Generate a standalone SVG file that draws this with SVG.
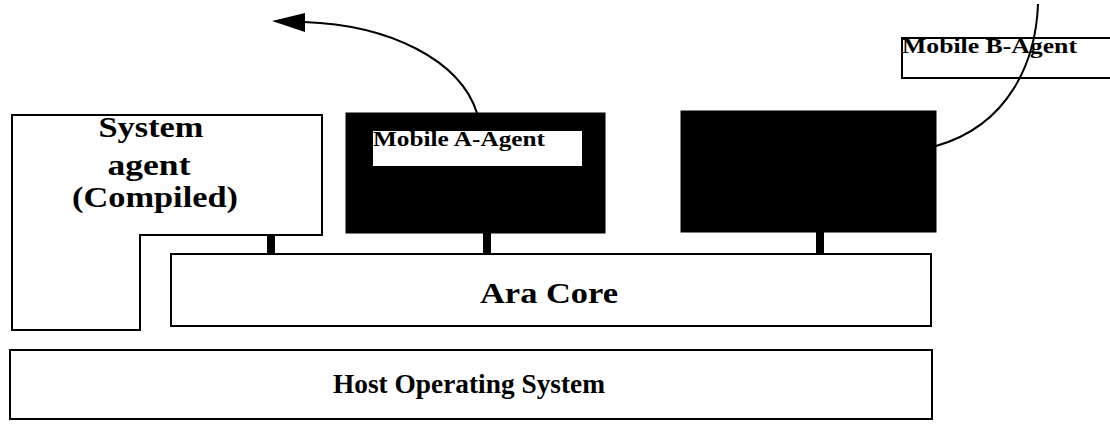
<svg xmlns="http://www.w3.org/2000/svg" width="1110" height="424" viewBox="0 0 1110 424">
  <style>
    .box { fill: #ffffff; stroke: #000000; stroke-width: 2; }
    .blk { fill: #000000; stroke: #000000; stroke-width: 1; }
    .lbl { font-family: "Liberation Serif", "Times New Roman", serif; font-weight: bold; fill: #000000; }
    .conn { fill: none; stroke: #000000; stroke-width: 2; }
    .stem { fill: #000000; }
  </style>
  <rect width="1110" height="424" fill="#ffffff"/>

  <g id="system-agent">
    <path class="box" d="M12,115 L322,115 L322,235 L140,235 L140,330 L12,330 Z"/>
    <text class="lbl" x="151" y="137" font-size="30" text-anchor="middle" textLength="105" lengthAdjust="spacingAndGlyphs">System</text>
    <text class="lbl" x="149" y="175" font-size="30" text-anchor="middle" textLength="83" lengthAdjust="spacingAndGlyphs">agent</text>
    <text class="lbl" x="155" y="207" font-size="30" text-anchor="middle" textLength="166" lengthAdjust="spacingAndGlyphs">(Compiled)</text>
  </g>

  <g id="mobile-a-agent">
    <rect class="blk" x="346" y="113" width="259" height="120"/>
    <rect x="373" y="131" width="209" height="35" fill="#ffffff"/>
    <text class="lbl" x="373" y="146" font-size="21" textLength="172" lengthAdjust="spacingAndGlyphs">Mobile A-Agent</text>
  </g>

  <g id="mobile-b-host">
    <rect class="blk" x="681" y="111" width="255" height="121"/>
  </g>

  <g id="mobile-b-agent">
    <path class="box" d="M1112,38 L902,38 L902,78 L1112,78"/>
    <text class="lbl" x="902" y="53" font-size="21" textLength="175" lengthAdjust="spacingAndGlyphs">Mobile B-Agent</text>
  </g>

  <g id="ara-core">
    <rect class="box" x="171" y="254" width="760" height="72"/>
    <text class="lbl" x="549" y="303" font-size="30" text-anchor="middle" textLength="138" lengthAdjust="spacingAndGlyphs">Ara Core</text>
  </g>

  <g id="host-os">
    <rect class="box" x="10" y="350" width="922" height="69"/>
    <text class="lbl" x="469" y="393" font-size="27" text-anchor="middle" textLength="272" lengthAdjust="spacingAndGlyphs">Host Operating System</text>
  </g>

  <g id="connectors">
    <rect class="stem" x="267" y="235" width="8" height="20"/>
    <rect class="stem" x="483" y="233" width="8" height="22"/>
    <rect class="stem" x="816" y="232" width="8" height="23"/>
    <path class="conn" d="M477,113 C460,60 390,25 304,22"/>
    <polygon points="272,21 305,13 305,32" fill="#000"/>
    <path class="conn" d="M1038,4 C1036,60 1010,125 936,146"/>
  </g>
</svg>
